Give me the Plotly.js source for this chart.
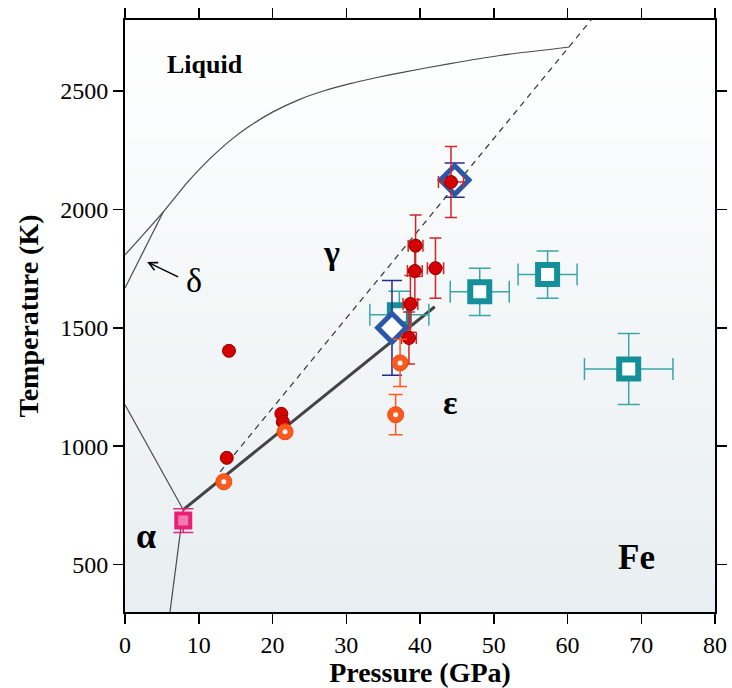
<!DOCTYPE html>
<html><head><meta charset="utf-8">
<script src="https://cdn.plot.ly/plotly-3.0.1.min.js"></script>
<style>body{margin:0;background:#fff}#chart{width:732px;height:688px}</style>
</head><body><div id="chart"></div>
<script>
// ---- phase boundaries (P in GPa, T in K) ----
const meltP = [0, 5.2, 8.4, 10.5, 12.5, 14.5, 16.9, 20.0, 23.7, 27.0, 30.5, 34.0, 37.3, 44.1, 50.8, 60.3];
const meltT = [1808, 1990, 2112, 2183, 2243, 2297, 2352, 2411, 2465, 2501, 2531, 2556, 2577, 2616, 2650, 2686];
const deltaGammaP = [0, 5.2];
const deltaGammaT = [1668, 1990];
const alphaGammaP = [0, 7.9];
const alphaGammaT = [1175, 732];
const alphaEpsP = [7.9, 6.1];
const alphaEpsT = [732, 300];
const gammaEpsP = [7.9, 42.0];
const gammaEpsT = [732, 1589];
const dashedP = [12.9, 63.2];
const dashedT = [892, 2800];

// ---- data sets ----
const redP = [14.1, 13.8, 21.2, 21.4, 44.2, 39.4, 39.3, 42.1, 38.7, 38.5];
const redT = [1403, 951, 1137, 1103, 2116, 1847, 1740, 1752, 1601, 1457];
const redPerr = [0, 0, 0, 0, 1.7, 1.0, 1.0, 1.1, 1.0, 1.0];
const redTerr = [0, 0, 0, 0, 150, 130, 120, 127, 120, 110];

const blueP = [44.7, 36.2];
const blueT = [2124, 1500];
const blueTerr = [72, 200];

const orangeP = [13.4, 21.7, 37.3, 36.7];
const orangeT = [850, 1061, 1352, 1133];
const orangeTerr = [0, 0, 100, 85];

const tealP = [37.2, 48.1, 57.3, 68.3];
const tealT = [1555, 1652, 1725, 1326];
const tealPerr = [4, 4, 4, 6];
const tealTerr = [100, 100, 100, 150];

const pinkP = [7.9];
const pinkT = [686];
const pinkTerr = [50];

const xTicks = [0, 10, 20, 30, 40, 50, 60, 70, 80];
const yTicks = [500, 1000, 1500, 2000, 2500];

const serif = 'Liberation Serif, Times New Roman, serif';

function lineTrace(x, y, w, color, dash, shape) {
  return {x: x, y: y, mode: 'lines', type: 'scatter', hoverinfo: 'skip', showlegend: false,
    line: {color: color, width: w, dash: dash || 'solid', shape: shape || 'linear', smoothing: 0.6}};
}

const traces = [
  lineTrace(meltP, meltT, 1.2, '#4a4a4a', 'solid', 'spline'),
  lineTrace(deltaGammaP, deltaGammaT, 1.2, '#4a4a4a'),
  lineTrace(alphaGammaP, alphaGammaT, 1.2, '#4a4a4a'),
  lineTrace(alphaEpsP, alphaEpsT, 1.2, '#4a4a4a'),
  lineTrace(dashedP, dashedT, 1.2, '#333333', '6px,5px'),
  lineTrace(gammaEpsP, gammaEpsT, 3, '#444444'),
  {x: tealP, y: tealT, mode: 'markers', type: 'scatter', showlegend: false,
    marker: {symbol: 'square', size: 19, color: '#ffffff', line: {color: '#15909a', width: 6}},
    error_x: {type: 'data', array: tealPerr, visible: true, color: '#3aa6a8', thickness: 1.5, width: 11},
    error_y: {type: 'data', array: tealTerr, visible: true, color: '#3aa6a8', thickness: 1.5, width: 11}},
  {x: blueP, y: blueT, mode: 'markers', type: 'scatter', showlegend: false,
    marker: {symbol: 'diamond', size: 22, color: '#ffffff', line: {color: '#2c56a8', width: 5}},
    error_y: {type: 'data', array: blueTerr, visible: true, color: '#2a2a8c', thickness: 1.5, width: 10}},
  {x: pinkP, y: pinkT, mode: 'markers', type: 'scatter', showlegend: false,
    marker: {symbol: 'square', size: 14, color: '#f27aaf', line: {color: '#e8207a', width: 4}},
    error_y: {type: 'data', array: pinkTerr, visible: true, color: '#e8207a', thickness: 1.5, width: 10}},
  {x: redP, y: redT, mode: 'markers', type: 'scatter', showlegend: false,
    marker: {symbol: 'circle', size: 13, color: '#d40000', line: {color: '#8e0000', width: 1}},
    error_x: {type: 'data', array: redPerr, visible: true, color: '#d42424', thickness: 1.5, width: 6},
    error_y: {type: 'data', array: redTerr, visible: true, color: '#d42424', thickness: 1.5, width: 6}},
  {x: orangeP, y: orangeT, mode: 'markers', type: 'scatter', showlegend: false,
    marker: {symbol: 'circle', size: 16, color: '#ff5a1e', line: {color: '#f04a10', width: 1}},
    error_y: {type: 'data', array: orangeTerr, visible: true, color: '#ff5a1e', thickness: 1.5, width: 7}},
  {x: orangeP, y: orangeT, mode: 'markers', type: 'scatter', showlegend: false, hoverinfo: 'skip',
    marker: {symbol: 'circle', size: 5, color: '#ffffff'}}
];

// vertical background gradient (white at top to pale grey-blue at bottom)
const shapes = [];
const nb = 60;
for (let i = 0; i < nb; i++) {
  const f = i / (nb - 1);
  const r = Math.round(255 - (255 - 232) * f);
  const g = Math.round(255 - (255 - 238) * f);
  const b = Math.round(255 - (255 - 241) * f);
  shapes.push({type: 'rect', xref: 'paper', yref: 'paper', layer: 'below',
    x0: 0, x1: 1, y0: 1 - (i + 1) / nb, y1: 1 - i / nb + 0.001,
    fillcolor: 'rgb(' + r + ',' + g + ',' + b + ')', line: {width: 0}});
}

const annotations = [
  {x: 10.8, y: 2610, text: '<b>Liquid</b>', showarrow: false, font: {family: serif, size: 26, color: '#000'}},
  {x: 28.0, y: 1818, text: '<b>γ</b>', showarrow: false, font: {family: serif, size: 34, color: '#000'}},
  {x: 44.1, y: 1185, text: '<b>ε</b>', showarrow: false, font: {family: serif, size: 34, color: '#000'}},
  {x: 2.9, y: 622, text: '<b>α</b>', showarrow: false, font: {family: serif, size: 36, color: '#000'}},
  {x: 69.3, y: 530, text: '<b>Fe</b>', showarrow: false, font: {family: serif, size: 35, color: '#000'}},
  {x: 9.4, y: 1700, text: 'δ', showarrow: false, font: {family: serif, size: 34, color: '#000'}},
  {x: 3.0, y: 1778, ax: 7.4, ay: 1712, axref: 'x', ayref: 'y', text: '', showarrow: true,
    arrowhead: 5, arrowsize: 1.1, arrowwidth: 1.5, arrowcolor: '#000', standoff: 0, startstandoff: 0}
];

const axisCommon = {
  showgrid: false, zeroline: false, showline: true, linewidth: 2, linecolor: '#000',
  mirror: 'ticks', ticks: 'outside', ticklen: 10, tickwidth: 1.5, tickcolor: '#000',
  tickfont: {family: serif, size: 24, color: '#000'}
};

const layout = {
  width: 732, height: 688,
  margin: {l: 125, r: 17, t: 20, b: 76},
  paper_bgcolor: '#ffffff', plot_bgcolor: '#ffffff',
  showlegend: false,
  xaxis: Object.assign({}, axisCommon, {
    range: [0, 80], tickvals: xTicks, ticktext: xTicks.map(String),
    title: {text: '<b>Pressure (GPa)</b>', font: {family: serif, size: 28, color: '#000'}, standoff: 7}
  }),
  yaxis: Object.assign({}, axisCommon, {
    range: [300, 2800], tickvals: yTicks, ticktext: yTicks.map(String),
    title: {text: '<b>Temperature (K)</b>', font: {family: serif, size: 28, color: '#000'}, standoff: 13}
  }),
  shapes: shapes,
  annotations: annotations
};

Plotly.newPlot('chart', traces, layout, {displayModeBar: false, staticPlot: true});
</script>
</body></html>
